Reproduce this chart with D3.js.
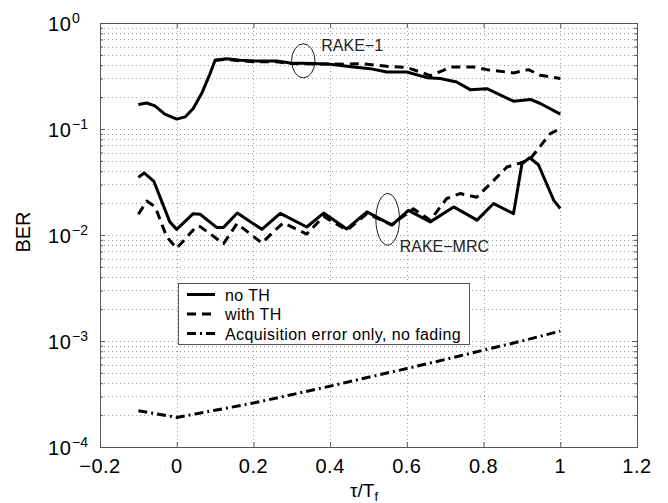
<!DOCTYPE html>
<html>
<head>
<meta charset="utf-8">
<script src="https://cdn.jsdelivr.net/npm/d3@7"></script>
<style>
  body { margin: 0; background: #fff; }
  text { font-family: "Liberation Sans", Arial, Helvetica, sans-serif; }
</style>
</head>
<body>
<div id="chart"></div>
<script>
// ---- data ----
const xTicks = [-0.2, 0, 0.2, 0.4, 0.6, 0.8, 1, 1.2];
const xTickLabels = ["\u22120.2", "0", "0.2", "0.4", "0.6", "0.8", "1", "1.2"];
const yDecades = [1e-4, 1e-3, 1e-2, 1e-1, 1];
const yTickExps = ["\u22124", "\u22123", "\u22122", "\u22121", "0"];

const legendNames = ["no TH", "with TH", "Acquisition error only, no fading"];

// RAKE-1, no TH (solid)
const rake1NoThX = [-0.1, -0.078, -0.057, -0.031, 0, 0.022, 0.043, 0.065, 0.087, 0.1, 0.13, 0.165, 0.209, 0.261, 0.296, 0.356, 0.4, 0.461, 0.504, 0.548, 0.6, 0.652, 0.687, 0.73, 0.765, 0.809, 0.878, 0.922, 0.948, 1.0];
const rake1NoThY = [0.170, 0.176, 0.165, 0.138, 0.124, 0.130, 0.156, 0.216, 0.333, 0.445, 0.461, 0.445, 0.438, 0.438, 0.420, 0.414, 0.408, 0.385, 0.371, 0.345, 0.345, 0.305, 0.300, 0.278, 0.235, 0.240, 0.183, 0.190, 0.174, 0.138];

// RAKE-1, with TH (dashed)
const rake1ThX = [0.1, 0.13, 0.165, 0.209, 0.261, 0.296, 0.356, 0.4, 0.443, 0.478, 0.548, 0.6, 0.635, 0.661, 0.695, 0.713, 0.774, 0.809, 0.878, 0.917, 0.948, 1.0];
const rake1ThY = [0.445, 0.455, 0.440, 0.430, 0.430, 0.415, 0.410, 0.410, 0.408, 0.414, 0.390, 0.380, 0.345, 0.318, 0.358, 0.385, 0.385, 0.363, 0.338, 0.363, 0.321, 0.300];

// RAKE-MRC, no TH (solid)
const mrcNoThX = [-0.1, -0.085, -0.06, -0.018, 0, 0.043, 0.061, 0.104, 0.122, 0.158, 0.222, 0.27, 0.339, 0.383, 0.4435, 0.496, 0.561, 0.604, 0.661, 0.722, 0.783, 0.826, 0.878, 0.9, 0.92, 0.943, 0.983, 1.0];
const mrcNoThY = [0.0350, 0.0385, 0.0323, 0.0133, 0.0113, 0.0159, 0.0157, 0.0118, 0.0118, 0.0161, 0.0113, 0.0160, 0.0119, 0.0161, 0.0114, 0.0165, 0.0124, 0.0171, 0.0133, 0.0184, 0.0138, 0.0198, 0.0159, 0.0470, 0.0535, 0.0460, 0.0212, 0.0178];

// RAKE-MRC, with TH (dashed)
const mrcThX = [-0.1, -0.078, -0.056, -0.026, 0, 0.052, 0.061, 0.122, 0.157, 0.222, 0.261, 0.278, 0.339, 0.383, 0.4435, 0.496, 0.561, 0.617, 0.661, 0.704, 0.739, 0.782, 0.818, 0.861, 0.896, 0.92, 0.974, 1.0];
const mrcThY = [0.0157, 0.0209, 0.0184, 0.0096, 0.0075, 0.0121, 0.0120, 0.0083, 0.0128, 0.0084, 0.0115, 0.0130, 0.0102, 0.0150, 0.0111, 0.0159, 0.0125, 0.0177, 0.0138, 0.0221, 0.0246, 0.0227, 0.0305, 0.0438, 0.0478, 0.0514, 0.0905, 0.101];

// acquisition error only, no fading (dash-dot)
const acqX = [-0.1, 0, 0.1, 0.2, 0.3, 0.4, 0.5, 0.6, 0.7, 0.8, 0.9, 1.0];
const acqY = [2.2e-4, 1.9e-4, 2.22e-4, 2.6e-4, 3.12e-4, 3.75e-4, 4.55e-4, 5.5e-4, 6.7e-4, 8.2e-4, 1.0e-3, 1.24e-3];

// annotations: [label, x, y]
const annotations = [["RAKE\u22121", 0.33, 0.44], ["RAKE\u2212MRC", 0.55, 0.01406]];

// ---- layout ----
const width = 668, height = 503;
const margin = {top: 23, right: 31, bottom: 56, left: 100};
const plotW = width - margin.left - margin.right;
const plotH = height - margin.top - margin.bottom;

const svg = d3.select("#chart").append("svg")
    .attr("width", width)
    .attr("height", height);

const xScale = d3.scaleLinear().domain([-0.2, 1.2]).range([margin.left, margin.left + plotW]);
const yScale = d3.scaleLog().domain([1e-4, 1]).range([margin.top + plotH, margin.top]);

// minor log values for grid
let yMinor = [];
for (let k = -4; k < 0; k++) {
    for (let m = 1; m <= 9; m++) {
        yMinor.push(m * Math.pow(10, k));
    }
}
yMinor.push(1);

const gridColor = "#a0a0a0";
const frameColor = "#555";

// grid
let grid = svg.append("g").attr("class", "grid");
grid.selectAll(".hgrid")
    .data(yMinor.filter(v => v > 1e-4 && v < 1))
    .enter().append("line")
    .attr("x1", margin.left).attr("x2", margin.left + plotW)
    .attr("y1", d => Math.round(yScale(d)) + 0.5).attr("y2", d => Math.round(yScale(d)) + 0.5)
    .attr("stroke", gridColor).attr("stroke-width", 1)
    .attr("stroke-dasharray", "1,3");
grid.selectAll(".vgrid")
    .data(xTicks.slice(1, -1))
    .enter().append("line")
    .attr("y1", margin.top).attr("y2", margin.top + plotH)
    .attr("x1", d => Math.round(xScale(d)) + 0.5).attr("x2", d => Math.round(xScale(d)) + 0.5)
    .attr("stroke", gridColor).attr("stroke-width", 1)
    .attr("stroke-dasharray", "1,3");

// axes (ticks pointing inwards on all four sides)
function styleAxis(g) {
    g.select(".domain").remove();
    g.selectAll(".tick line").attr("stroke", frameColor);
    g.selectAll(".tick text").remove();
}
svg.append("g").attr("transform", "translate(0," + (margin.top + plotH) + ")")
    .call(d3.axisBottom(xScale).tickValues(xTicks).tickSize(-5)).call(styleAxis);
svg.append("g").attr("transform", "translate(0," + margin.top + ")")
    .call(d3.axisTop(xScale).tickValues(xTicks).tickSize(-5)).call(styleAxis);
svg.append("g").attr("transform", "translate(" + margin.left + ",0)")
    .call(d3.axisLeft(yScale).tickValues(yDecades).tickSize(-5)).call(styleAxis);
svg.append("g").attr("transform", "translate(" + (margin.left + plotW) + ",0)")
    .call(d3.axisRight(yScale).tickValues(yDecades).tickSize(-5)).call(styleAxis);
svg.append("g").attr("transform", "translate(" + margin.left + ",0)")
    .call(d3.axisLeft(yScale).tickValues(yMinor).tickSize(-3)).call(styleAxis);
svg.append("g").attr("transform", "translate(" + (margin.left + plotW) + ",0)")
    .call(d3.axisRight(yScale).tickValues(yMinor).tickSize(-3)).call(styleAxis);

// frame
svg.append("rect")
    .attr("x", margin.left + 0.5).attr("y", margin.top + 0.5)
    .attr("width", plotW).attr("height", plotH)
    .attr("fill", "none").attr("stroke", frameColor).attr("stroke-width", 1);

// tick labels
svg.append("g").selectAll("text")
    .data(xTicks).enter().append("text")
    .attr("x", d => xScale(d))
    .attr("y", margin.top + plotH + 26)
    .attr("text-anchor", "middle")
    .attr("font-size", 20)
    .attr("letter-spacing", 0.5)
    .text((d, i) => xTickLabels[i]);

let yLab = svg.append("g").selectAll("g")
    .data(yDecades).enter().append("g")
    .attr("transform", d => "translate(48," + yScale(d) + ")");
yLab.append("text")
    .attr("x", 0).attr("y", 8)
    .attr("font-size", 20)
    .attr("letter-spacing", 0.6)
    .text("10");
yLab.append("text")
    .attr("x", 24).attr("y", 0)
    .attr("font-size", 14)
    .text((d, i) => yTickExps[i]);

// axis titles
svg.append("text")
    .attr("transform", "translate(30," + (margin.top + plotH / 2 - 3) + ") rotate(-90)")
    .attr("text-anchor", "middle")
    .attr("font-size", 20)
    .text("BER");

let xt = svg.append("text")
    .attr("x", 350).attr("y", 497)
    .attr("font-size", 19);
xt.append("tspan").text("\u03c4/T");
xt.append("tspan").attr("font-size", 13).attr("dy", 4).text("f");

// series
const zip = (xs, ys) => xs.map((v, i) => [v, ys[i]]);
const line = d3.line().x(d => xScale(d[0])).y(d => yScale(d[1]));

const series = [
    {data: zip(rake1NoThX, rake1NoThY), dash: null},
    {data: zip(rake1ThX, rake1ThY), dash: "9,6"},
    {data: zip(mrcNoThX, mrcNoThY), dash: null},
    {data: zip(mrcThX, mrcThY), dash: "9,6"},
    {data: zip(acqX, acqY), dash: "9,4,2,4"}
];

svg.append("g").selectAll("path")
    .data(series).enter().append("path")
    .attr("d", d => line(d.data))
    .attr("fill", "none")
    .attr("stroke", "#000")
    .attr("stroke-width", 3)
    .attr("stroke-linejoin", "round")
    .attr("stroke-dasharray", d => d.dash);

// annotations
svg.append("ellipse")
    .attr("cx", xScale(annotations[0][1])).attr("cy", yScale(annotations[0][2]))
    .attr("rx", 11.7).attr("ry", 17)
    .attr("fill", "none").attr("stroke", "#000").attr("stroke-width", 0.9);
svg.append("text")
    .attr("x", xScale(annotations[0][1]) + 18).attr("y", yScale(annotations[0][2]) - 10)
    .attr("font-size", 16).attr("fill", "#222")
    .text(annotations[0][0]);

svg.append("ellipse")
    .attr("cx", xScale(annotations[1][1])).attr("cy", yScale(annotations[1][2]))
    .attr("rx", 11.8).attr("ry", 25.8)
    .attr("fill", "none").attr("stroke", "#000").attr("stroke-width", 0.9);
svg.append("text")
    .attr("x", xScale(annotations[1][1]) + 12).attr("y", yScale(annotations[1][2]) + 33)
    .attr("font-size", 16).attr("fill", "#222")
    .text(annotations[1][0]);

// legend
const legend = svg.append("g").attr("transform", "translate(178,283)");
legend.append("rect")
    .attr("x", 0.5).attr("y", 0.5)
    .attr("width", 291).attr("height", 61)
    .attr("fill", "#fff").attr("stroke", frameColor).attr("stroke-width", 1);
const legendDash = [null, "9,6", "9,4,2,4"];
let items = legend.selectAll(".item")
    .data(legendNames).enter().append("g")
    .attr("transform", (d, i) => "translate(0," + (11.5 + i * 19.5) + ")");
items.append("line")
    .attr("x1", 9).attr("x2", 37)
    .attr("y1", 0).attr("y2", 0)
    .attr("stroke", "#000").attr("stroke-width", 3)
    .attr("stroke-dasharray", (d, i) => legendDash[i]);
items.append("text")
    .attr("x", 47).attr("y", 6)
    .attr("font-size", 16)
    .attr("letter-spacing", 0.4)
    .text(d => d);
</script>
</body>
</html>
